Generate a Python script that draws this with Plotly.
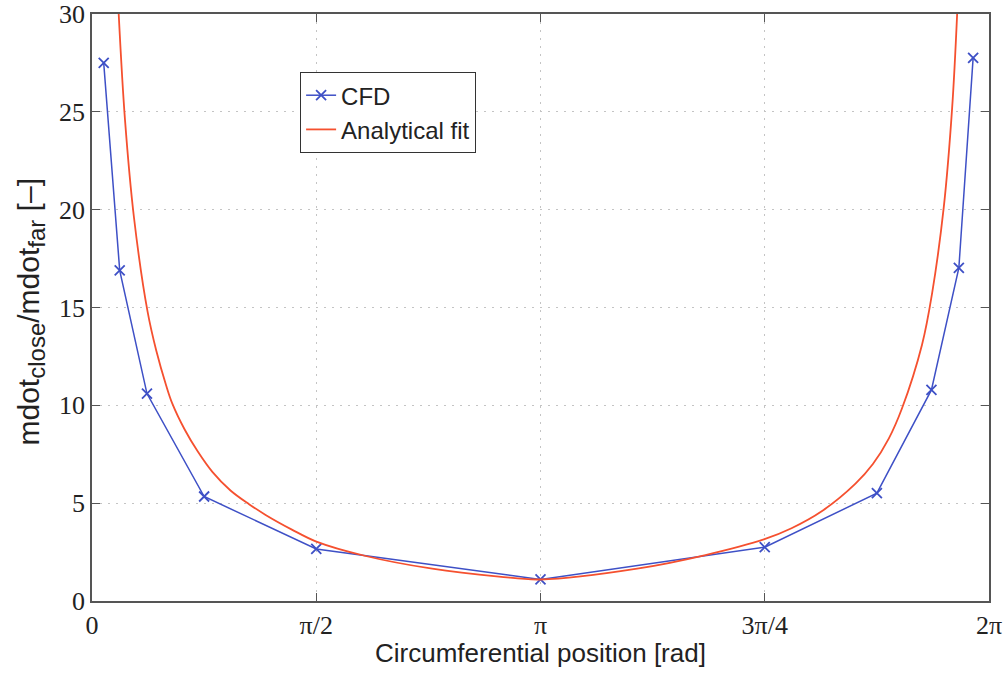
import numpy as np
import plotly.graph_objects as go

PI = np.pi

# CFD data (circumferential position in rad, ratio)
cfd_x = [0.082, 0.194, 0.385, PI/4, PI/2, PI, 3*PI/2, 7*PI/4, 5.880, 6.072, 6.172]
cfd_y = [27.5, 16.9, 10.6, 5.34, 2.66, 1.10, 2.75, 5.51, 10.79, 17.02, 27.76]

# Analytical fit
fit_x = [0.187, 0.231, 0.294, 0.389, 0.45, 0.52, 0.562, 0.65, 0.74, 0.843, 0.97,
         1.10, 1.216, 1.40, 1.567, 1.917, 2.383, 2.85, 3.14, 3.83, 4.297, 4.706,
         4.90, 5.114, 5.348, 5.47, 5.581, 5.674, 5.814, 5.884, 5.966, 6.025, 6.06]
fit_y = [30.0, 24.6, 19.6, 14.8, 12.8, 11.0, 10.1, 8.75, 7.65, 6.6, 5.65,
         4.95, 4.4, 3.65, 3.05, 2.3, 1.65, 1.25, 1.10, 1.67, 2.35, 3.15,
         3.72, 4.6, 6.0, 7.0, 8.3, 9.85, 13.1, 15.7, 20.1, 25.2, 30.0]

x_tickvals = [0, PI/2, PI, 3*PI/2, 2*PI]
x_ticktext = ["0", "π/2", "π", "3π/4", "2π"]
y_tickvals = [0, 5, 10, 15, 20, 25, 30]

fig = go.Figure()
fig.add_trace(go.Scatter(
    x=cfd_x, y=cfd_y, mode="lines+markers", name="CFD",
    line=dict(color="#3E50C6", width=1.5),
    marker=dict(symbol="x-thin", size=10, line=dict(color="#3E50C6", width=1.8)),
))
fig.add_trace(go.Scatter(
    x=fit_x, y=fit_y, mode="lines", name="Analytical fit",
    line=dict(color="#F5502F", width=1.8, shape="spline", smoothing=1.0),
))

axis_common = dict(
    showline=True, linecolor="#555555", linewidth=1.5, mirror="ticks",
    ticks="inside", ticklen=8, tickwidth=1.2, tickcolor="#555555",
    showgrid=True, gridcolor="#C4C4C4", griddash="2px,6px", gridwidth=1,
    zeroline=False, automargin=False,
    tickfont=dict(family="Liberation Serif", size=26, color="#222222"),
)

fig.update_xaxes(range=[0, 2*PI], tickvals=x_tickvals, ticktext=x_ticktext, **axis_common)
fig.update_yaxes(range=[0, 30], tickvals=y_tickvals, **axis_common)

fig.update_layout(
    width=1008, height=673,
    margin=dict(l=92, r=19, t=14, b=72),
    paper_bgcolor="white", plot_bgcolor="white",
    showlegend=True,
    legend=dict(
        x=0.232, y=0.901, xanchor="left", yanchor="top",
        bgcolor="white", bordercolor="#333333", borderwidth=1,
        font=dict(family="Liberation Sans", size=24, color="#222222"),
    ),
    annotations=[
        dict(text="Circumferential position [rad]", xref="paper", yref="paper",
             x=0.5, y=0, yshift=-52, xanchor="center", yanchor="middle", showarrow=False,
             font=dict(family="Liberation Sans", size=26, color="#222222")),
        dict(text="mdot<sub><span style='font-size:24px'>close</span></sub>/mdot"
                  "<sub><span style='font-size:24px'>far</span></sub> [–]",
             xref="paper", yref="paper",
             x=0, y=0.5, xshift=-62, yshift=-5, xanchor="center", yanchor="middle",
             textangle=-90, showarrow=False,
             font=dict(family="Liberation Sans", size=30, color="#222222")),
    ],
)

fig.write_html("out.html")
